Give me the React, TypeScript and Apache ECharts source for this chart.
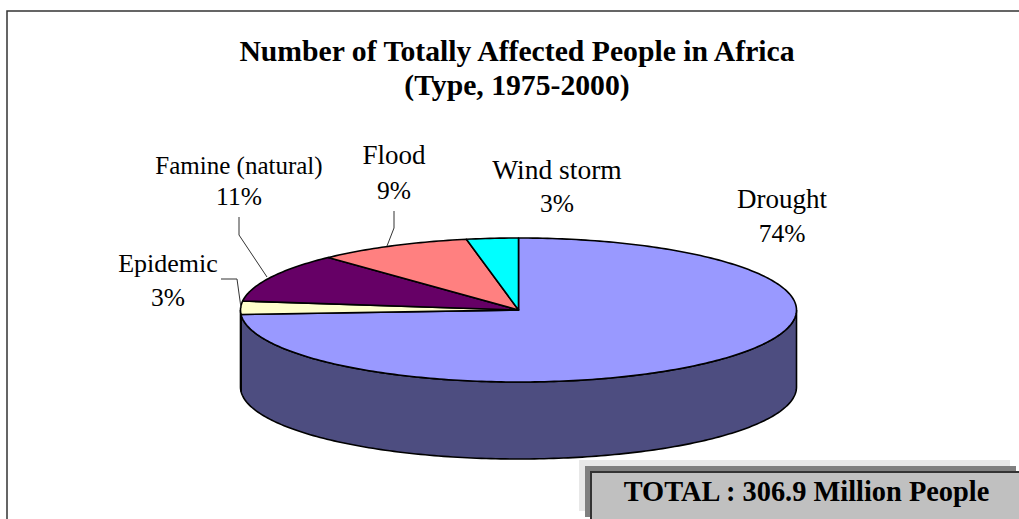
import React, { useEffect, useRef } from "react";
import * as echarts from "echarts";

const titleLines = ["Number of Totally Affected People in Africa", "(Type, 1975-2000)"];
const categories = ["Drought", "Epidemic", "Famine (natural)", "Flood", "Wind storm"];
const shares = [74, 3, 11, 9, 3];
const topColors = ["#9999FF", "#FFFFCC", "#660066", "#FF8080", "#00FFFF"];
const sideColors = ["#4D4D80", "#808066", "#330033", "#804040", "#008080"];
const totalText = "TOTAL : 306.9 Million People";

// Pie projection
const CX = 518.5, CY = 310, RX = 278, RY = 72, DEPTH = 77;
// Label layout, by category index: text centre, name size, and leader polyline (if any)
const labelLayout: { x: number; y: number; y2: number; size: number; leader?: number[][] }[] = [
  { x: 782, y: 199, y2: 233, size: 27 },
  { x: 168, y: 263, y2: 297, size: 26 },
  { x: 239, y: 165, y2: 196, size: 25 },
  { x: 394, y: 155, y2: 190, size: 27 },
  { x: 557, y: 169, y2: 203, size: 27.5 },
];
const leaders: (number[][] | null)[] = [
  null,
  [[221, 279], [237, 279], [241, 308]],
  [[239, 217], [239, 235], [267, 277]],
  [[394, 211], [394, 228], [387, 246]],
  null,
];

const pt = (frac: number, dy = 0) => {
  const a = frac * 2 * Math.PI;
  return [CX + RX * Math.sin(a), CY - RY * Math.cos(a) + dy];
};
const arc = (f0: number, f1: number, dy = 0) => {
  const n = Math.max(2, Math.ceil(Math.abs(f1 - f0) * 360));
  const out: number[][] = [];
  for (let i = 0; i <= n; i++) out.push(pt(f0 + ((f1 - f0) * i) / n, dy));
  return out;
};

export default function App() {
  const ref = useRef<HTMLDivElement>(null);
  useEffect(() => {
    document.body.style.margin = "0";
    const chart = echarts.init(ref.current!, null, { renderer: "svg" });
    const sum = shares.reduce((a, b) => a + b, 0);
    const font = "'Liberation Serif', 'Times New Roman', serif";
    const edge = { stroke: "#000", lineWidth: 1.6 };
    const seriesData = categories.map((name, i) => ({
      name,
      value: [shares[i], shares.slice(0, i).reduce((a, b) => a + b, 0)],
    }));
    chart.setOption({
      animation: false,
      backgroundColor: "#fff",
      title: {
        text: titleLines.join("\n"),
        left: 512,
        top: 29,
        textAlign: "center",
        textStyle: { fontFamily: font, fontSize: 29.7, fontWeight: "bold", color: "#000", lineHeight: 34 },
      },
      graphic: [
        { type: "rect", z: 0, shape: { x: 7, y: 11, width: 1030, height: 530 }, style: { fill: "#fff", stroke: "#333", lineWidth: 1.5 } },
        { type: "rect", z: 10, shape: { x: 579, y: 460, width: 431, height: 51 }, style: { fill: "#E8E8E8" } },
        { type: "rect", z: 11, shape: { x: 585, y: 466, width: 431, height: 51 }, style: { fill: "#808080" } },
        { type: "rect", z: 12, shape: { x: 591, y: 472, width: 440, height: 60 }, style: { fill: "#C0C0C0", stroke: "#333", lineWidth: 2 } },
        { type: "text", z: 13, x: 806.5, y: 491, style: { text: totalText, fontFamily: font, fontSize: 28.4, fontWeight: "bold", fill: "#000", align: "center", verticalAlign: "middle" } },
      ],
      series: [
        {
          type: "custom",
          coordinateSystem: "none",
          clip: false,
          data: seriesData,
          renderItem: (params: any, api: any) => {
            const i = params.dataIndex;
            const f0 = (api.value(1) as number) / sum;
            const f1 = f0 + (api.value(0) as number) / sum;
            const children: any[] = [];
            // Walls: the front half of the ellipse only (0.25 .. 0.75 turn)
            const w0 = Math.max(f0, 0.25), w1 = Math.min(f1, 0.75);
            if (w1 > w0) {
              const top = arc(w0, w1);
              const bottom = arc(w0, w1, DEPTH).reverse();
              children.push({ type: "polygon", z2: 1, shape: { points: [...top, ...bottom] }, style: { fill: sideColors[i], ...edge } });
            }
            // Top face
            children.push({ type: "polygon", z2: 2, shape: { points: [[CX, CY], ...arc(f0, f1)] }, style: { fill: topColors[i], ...edge, lineJoin: "round" } });
            // Label and leader
            const l = labelLayout[i];
            const pct = Math.round(((api.value(0) as number) / sum) * 100) + "%";
            children.push({
              type: "text", z2: 5, x: l.x, y: l.y,
              style: { text: categories[i], fontFamily: font, fontSize: l.size, fill: "#000", align: "center", verticalAlign: "middle" },
            });
            children.push({
              type: "text", z2: 5, x: l.x, y: l.y2,
              style: { text: pct, fontFamily: font, fontSize: 25.5, fill: "#000", align: "center", verticalAlign: "middle" },
            });
            const lead = leaders[i];
            if (lead) {
              children.push({ type: "polyline", z2: 4, shape: { points: lead }, style: { fill: "none", stroke: "#333", lineWidth: 1 } });
            }
            return { type: "group", children };
          },
        },
      ],
    });
    return () => chart.dispose();
  }, []);
  return <div ref={ref} style={{ width: 1019, height: 519 }} />;
}
